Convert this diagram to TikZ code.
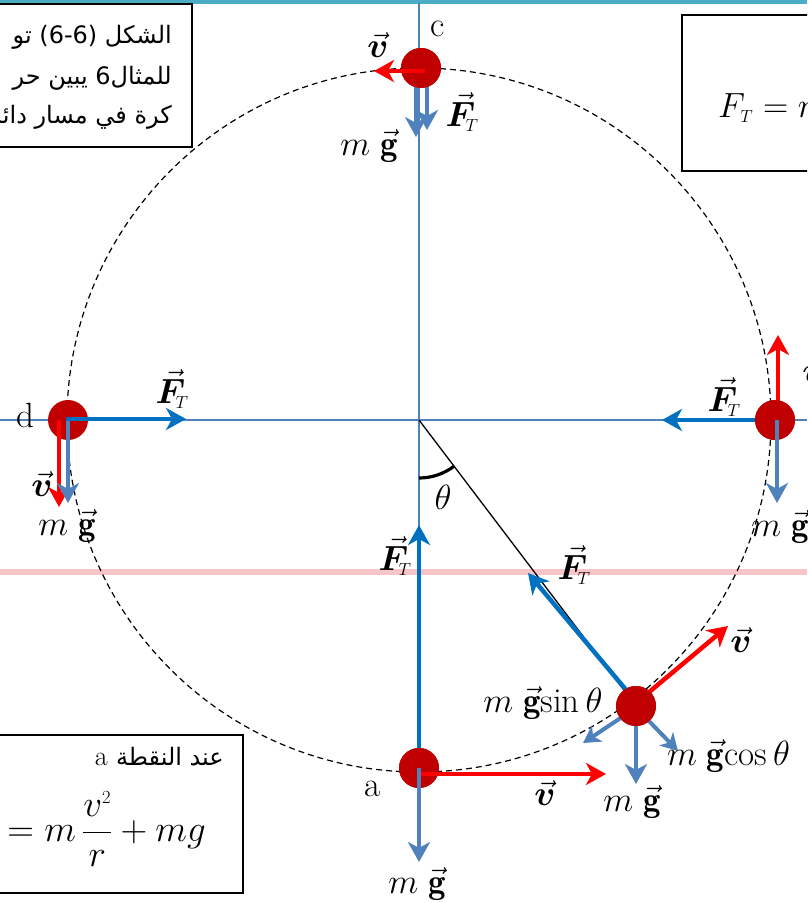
\RequirePackage{fix-cm}
\documentclass[tikz,border=0pt]{standalone}
\usepackage{amsmath}
\usepackage{bm}
\usepackage{fontspec}
\newfontfamily\arabicfont[Script=Arabic]{DejaVu Sans}
\TeXXeTstate=1
\usetikzlibrary{arrows.meta,calc}
\definecolor{ftblue}{HTML}{0070C0}
\definecolor{mgblue}{HTML}{4F81BD}
\definecolor{vred}{HTML}{FF0000}
\definecolor{balldark}{HTML}{C00000}
\definecolor{axisblue}{HTML}{4F81BD}
\definecolor{topbar}{HTML}{4BACC6}
\definecolor{pinkline}{HTML}{F7C5C8}
\newcommand{\FTvec}{\vec{\bm F}_{\!\scriptscriptstyle T}}
\newcommand{\gvec}{\vec{\mathbf g}}
\newcommand{\vvec}{\vec{\bm v}}
\tikzset{
  headtip/.style={-{Stealth[length=20pt,width=22pt,inset=6pt]}},
  ftarrow/.style={headtip, draw=ftblue, line width=4.5pt},
  mgarrow/.style={headtip, draw=mgblue, line width=4.5pt},
  varrow/.style={headtip, draw=vred, line width=4.5pt},
  smallmg/.style={-{Stealth[length=17pt,width=19pt,inset=5pt]}, draw=mgblue, line width=4pt},
  ball/.style={circle, fill=balldark, minimum size=40pt, inner sep=0pt},
  lbl/.style={inner sep=0pt, font=\fontsize{35}{38}\selectfont},
  arab/.style={inner sep=0pt, font=\arabicfont\fontsize{24}{28}\selectfont},
  boxline/.style={draw=black, line width=1.3pt},
  axis/.style={draw=axisblue, line width=1.6pt},
}
\begin{document}
\begin{tikzpicture}[x=1pt,y=-1pt]
\useasboundingbox (0,0) rectangle (807,903);
\clip (0,0) rectangle (807,903);
\fill[white] (0,0) rectangle (807,903);
% background marks
\fill[topbar] (0,0) rectangle (807,3.5);
\fill[pinkline] (0,569) rectangle (807,575);
% geometry
\coordinate (O) at (419,420);
\draw[axis] (419,3) -- (419,768);
\draw[axis] (0,420) -- (807,420);
\draw[black, line width=1.2pt, dash pattern=on 6pt off 4pt] (O) circle[radius=352];
% balls
\node[ball] (C) at (421,68) {};
\node[ball] (D) at (68,420) {};
\node[ball] (B) at (775,420) {};
\node[ball] (A) at (419,768) {};
\node[ball] (P) at (636,706) {};
% string and angle
\draw[black, line width=1.3pt] (O) -- (P.center);
\coordinate (thS) at (419,478);
\draw[black, line width=3.2pt] (thS) arc[start angle=90, end angle=53, radius=58];
% arrows under balls
\coordinate (cmgS) at (416,82);  \coordinate (cmgE) at (416,137);
\coordinate (cftS) at (427,82);  \coordinate (cftE) at (427,130);
\draw[mgarrow] (cmgS) -- (cmgE);
\draw[ftarrow, draw=mgblue] (cftS) -- (cftE);
\coordinate (bftS) at (757,420); \coordinate (bftE) at (662,420);
\coordinate (bvS) at (778,402);  \coordinate (bvE) at (778,335);
\draw[ftarrow] (bftS) -- (bftE);
\draw[varrow] (bvS) -- (bvE);
\coordinate (aftS) at (419,750); \coordinate (aftE) at (419,525);
\draw[ftarrow] (aftS) -- (aftE);
\coordinate (pftS) at (627,691); \coordinate (pftE) at (528,573);
\coordinate (pvS) at (648,693);  \coordinate (pvE) at (728,626);
\coordinate (pmgS) at (636,722); \coordinate (pmgE) at (636,784);
\coordinate (pcS) at (647,719);  \coordinate (pcE) at (678,751);
\coordinate (psS) at (622,717);  \coordinate (psE) at (583,743);
\draw[ftarrow] (pftS) -- (pftE);
\draw[varrow] (pvS) -- (pvE);
\draw[mgarrow] (pmgS) -- (pmgE);
\draw[smallmg] (pcS) -- (pcE);
\draw[smallmg] (psS) -- (psE);
% redraw balls on top of under-arrows
\fill[balldark] (C) circle[radius=20];
\fill[balldark] (B) circle[radius=20];
\fill[balldark] (A) circle[radius=20];
\fill[balldark] (P) circle[radius=20];
% arrows over balls
\coordinate (cvS) at (425,71); \coordinate (cvE) at (374,71);
\draw[varrow] (cvS) -- (cvE);
\coordinate (dvS) at (59,420); \coordinate (dvE) at (59,507);
\coordinate (dmgS) at (68,420); \coordinate (dmgE) at (68,503);
\coordinate (dftS) at (66,419); \coordinate (dftE) at (186,419);
\draw[varrow] (dvS) -- (dvE);
\draw[mgarrow] (dmgS) -- (dmgE);
\draw[ftarrow] (dftS) -- (dftE);
\coordinate (bmgS) at (777,420); \coordinate (bmgE) at (777,503);
\draw[mgarrow] (bmgS) -- (bmgE);
\coordinate (avS) at (419,774); \coordinate (avE) at (606,774);
\coordinate (amgS) at (419,768); \coordinate (amgE) at (419,862);
\draw[varrow] (avS) -- (avE);
\draw[mgarrow] (amgS) -- (amgE);
% labels
\node[lbl] (lc) at (438,29) {c};
\node[lbl] (lcv) at (378,45) {$\vvec$};
\node[lbl] (lcft) at (462,112) {$\FTvec$};
\node[lbl] (lcmg) at (369,146) {$m\;\gvec$};
\node[lbl] (ld) at (25,415) {d};
\node[lbl] (ldft) at (172,389) {$\FTvec$};
\node[lbl] (ldv) at (42,484) {$\vvec$};
\node[lbl] (ldmg) at (67,526) {$m\;\gvec$};
\node[lbl] (lbft) at (724,397) {$\FTvec$};
\node[lbl] (lbv) at (813,370) {$\vvec$};
\node[lbl] (lbmg) at (780,527) {$m\;\gvec$};
\node[lbl] (laft) at (395,556) {$\FTvec$};
\node[lbl] (la) at (373,789) {a};
\node[lbl] (lav) at (545,793) {$\vvec$};
\node[lbl] (lamg) at (417,884) {$m\;\gvec$};
\node[lbl] (lpft) at (574,565) {$\FTvec$};
\node[lbl] (lpv) at (741,640) {$\vvec$};
\node[lbl] (lpsin) at (543,703) {$m\;\gvec\mathrm{sin}\,\theta$};
\node[lbl, anchor=west] (lpcos) at (667,756) {$m\;\gvec\mathrm{cos}\,\theta$};
\node[lbl] (lpmg) at (632,802) {$m\;\gvec$};
\node[lbl] (lth) at (443,497) {$\theta$};
% text boxes
\draw[boxline] (-5,4) rectangle (192,147);
\node[arab, anchor=east] (t1) at (172,37) {\beginR الشكل (6-6) تو\endR};
\node[arab, anchor=east] (t2) at (172,78) {\beginR للمثال6  يبين حر\endR};
\node[arab, anchor=east] (t3) at (172,117) {\beginR كرة في مسار دائر\endR};
\draw[boxline] (682,15) rectangle (815,171);
\node[lbl, anchor=west] (fr) at (718,108) {$F_{\scriptscriptstyle T} = m$};
\draw[boxline] (-5,735) rectangle (243,893);
\node[inner sep=0pt, anchor=east, font=\fontsize{28}{30}\selectfont] (ta) at (224,757) {a {\arabicfont\fontsize{24}{28}\selectfont\beginR عند النقطة\endR}};
\node[inner sep=0pt, anchor=east, font=\fontsize{37}{40}\selectfont] (fa) at (206,829) {$= m\,\dfrac{v^{\scriptscriptstyle 2}}{r} + mg$};
\end{tikzpicture}
\end{document}
